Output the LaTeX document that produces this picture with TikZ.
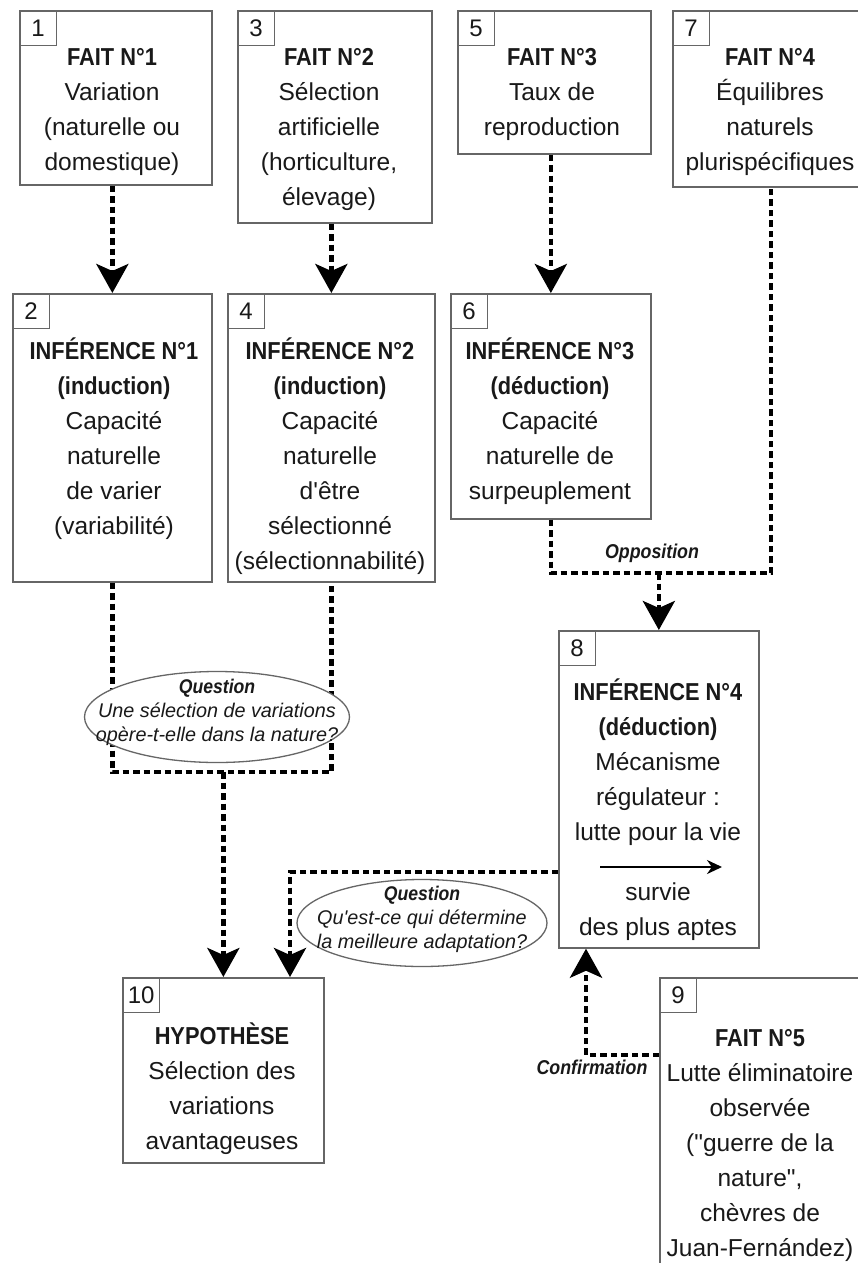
\documentclass[tikz,border=0pt]{standalone}
\usepackage{fontspec}
\setmainfont{Liberation Sans}[Ligatures=TeXOff,BoldFeatures={FakeStretch=0.89},BoldItalicFeatures={FakeStretch=0.89}]
\usetikzlibrary{arrows.meta,shapes.geometric}
\newcommand{\mylines}[1]{\begin{tabular}[t]{@{}c@{}}#1\end{tabular}}
\definecolor{boxgray}{gray}{0.40}
\definecolor{txtgray}{gray}{0.10}
\tikzset{
  box/.style={draw=boxgray, line width=1.7pt, fill=white, inner sep=0pt, anchor=north west},
  numbox/.style={draw=boxgray, line width=1.3pt, inner sep=0pt, anchor=north west,
    minimum width=37pt, minimum height=35pt, text=txtgray, font=\fontsize{24}{28}\selectfont},
  txt/.style={anchor=base, inner sep=0pt, text=txtgray, font=\fontsize{24.5}{35}\selectfont},
  dotline/.style={draw=black, line width=4.4pt, dash pattern=on 6.5pt off 4pt},
  dotarrow/.style={dotline, -{Stealth[length=29pt,width=32pt,inset=7pt]}},
  qell/.style={ellipse, draw=boxgray, line width=1.3pt, fill=white, inner sep=0pt},
  qtxt/.style={align=center, inner sep=0pt, text=txtgray, font=\fontsize{19.8}{24}\selectfont\itshape},
  lbl/.style={inner sep=0pt, text=txtgray, font=\fontsize{20}{24}\selectfont\bfseries\itshape}
}
\begin{document}
\begin{tikzpicture}[x=1pt,y=-1pt]
\fill[white] (0,0) rectangle (858,1263);
\useasboundingbox (0,0) rectangle (858,1263);

% boxes
\node[box, minimum width=192pt, minimum height=174pt] (b1) at (19,10) {};
\node[box, minimum width=194pt, minimum height=212pt] (b3) at (237,10) {};
\node[box, minimum width=193pt, minimum height=143pt] (b5) at (457,10) {};
\node[box, minimum width=196pt, minimum height=176pt] (b7) at (672,10) {};
\node[box, minimum width=199pt, minimum height=288pt] (b2) at (12,293) {};
\node[box, minimum width=207pt, minimum height=288pt] (b4) at (227,293) {};
\node[box, minimum width=200pt, minimum height=225pt] (b6) at (450,293) {};
\node[box, minimum width=200pt, minimum height=317pt] (b8) at (558,630) {};
\node[box, minimum width=230pt, minimum height=320pt] (b9) at (659,977) {};
\node[box, minimum width=201pt, minimum height=185pt] (b10) at (122,977) {};

% number boxes
\node[numbox] (n1) at (19,10) {1};
\node[numbox] (n3) at (237,10) {3};
\node[numbox] (n5) at (457,10) {5};
\node[numbox] (n7) at (672,10) {7};
\node[numbox] (n2) at (12,293) {2};
\node[numbox] (n4) at (227,293) {4};
\node[numbox] (n6) at (450,293) {6};
\node[numbox] (n8) at (558,630) {8};
\node[numbox] (n9) at (659,977) {9};
\node[numbox] (n10) at (122,977) {10};

% texts
\node[txt] (t1) at (112,66) {\mylines{\textbf{FAIT N°1}\\Variation\\(naturelle ou\\domestique)}};
\node[txt] (t3) at (329,66) {\mylines{\textbf{FAIT N°2}\\Sélection\\artificielle\\(horticulture,\\élevage)}};
\node[txt] (t5) at (552,66) {\mylines{\textbf{FAIT N°3}\\Taux de\\reproduction}};
\node[txt] (t7) at (770,66) {\mylines{\textbf{FAIT N°4}\\Équilibres\\naturels\\plurispécifiques}};
\node[txt] (t2) at (114,359) {\mylines{\textbf{INFÉRENCE N°1}\\\textbf{(induction)}\\Capacité\\naturelle\\de varier\\(variabilité)}};
\node[txt] (t4) at (330,359) {\mylines{\textbf{INFÉRENCE N°2}\\\textbf{(induction)}\\Capacité\\naturelle\\d'être\\sélectionné\\(sélectionnabilité)}};
\node[txt] (t6) at (550,359) {\mylines{\textbf{INFÉRENCE N°3}\\\textbf{(déduction)}\\Capacité\\naturelle de\\surpeuplement}};
\node[txt] (t8a) at (658,700) {\mylines{\textbf{INFÉRENCE N°4}\\\textbf{(déduction)}\\Mécanisme\\régulateur :\\lutte pour la vie}};
\node[txt] (t8b) at (658,900) {\mylines{survie\\des plus aptes}};
\node[txt] (t9) at (760,1046) {\mylines{\textbf{FAIT N°5}\\Lutte éliminatoire\\observée\\("guerre de la\\nature",\\chèvres de\\Juan-Fernández)}};
\node[txt] (t10) at (222,1044) {\mylines{\textbf{HYPOTHÈSE}\\Sélection des\\variations\\avantageuses}};

% arrow inside box 8
\coordinate (ia) at (600,867);
\coordinate (ib) at (722,867);
\draw[line width=2.4pt, -{Stealth[length=15pt,width=14pt]}] (ia) -- (ib);

% connectors
\draw[dotarrow] (b1.south -| b2.north) -- (b2.north);
\draw[dotarrow] (b3.south -| b4.north) -- (b4.north);
\draw[dotarrow] (b5.south -| b6.north) -- (b6.north);

\coordinate (opp) at (0,573);
\draw[dotline] (b6.south) -- (b6.south |- opp) -- (b7.south |- opp) -- (b7.south);
\draw[dotarrow] (b8.north |- opp) -- (b8.north);

\coordinate (qj) at (0,772);
\draw[dotline] (b2.south) -- (b2.south |- qj) -- (b4.south |- qj) -- (b4.south);
\draw[dotarrow] (b10.north |- qj) -- (b10.north);

\coordinate (q2c) at (290,872);
\draw[dotarrow] (b8.west |- q2c) -- (q2c) -- (q2c |- b10.north);

\coordinate (cf) at (586,1055);
\draw[dotarrow] (b9.west |- cf) -- (cf) -- (cf |- b8.south);

% question ellipses
\node[qell, minimum width=265pt, minimum height=91pt] (e1) at (217,717) {};
\node[qtxt] (qt1) at (217,712) {\textbf{Question}\\Une sélection de variations\\opère-t-elle dans la nature?};
\node[qell, minimum width=250pt, minimum height=87pt] (e2) at (422,923) {};
\node[qtxt] (qt2) at (422,919) {\textbf{Question}\\Qu'est-ce qui détermine\\la meilleure adaptation?};

% labels
\node[lbl] (lopp) at (652,553) {Opposition};
\node[lbl] (lconf) at (592,1067) {Confirmation};
\end{tikzpicture}
\end{document}
